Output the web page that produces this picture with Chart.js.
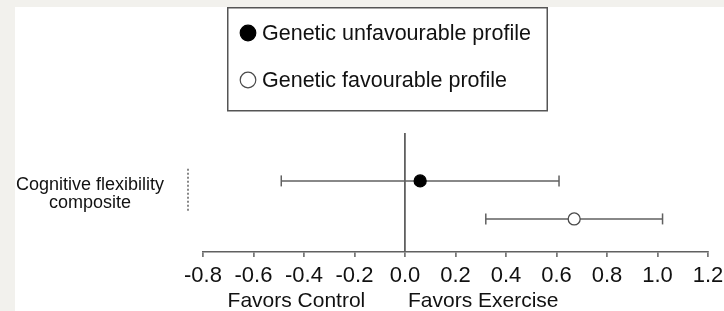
<!DOCTYPE html>
<html>
<head>
<meta charset="utf-8">
<script src="https://cdn.jsdelivr.net/npm/chart.js@4.4.1/dist/chart.umd.min.js"></script>
<style>
  html, body { margin: 0; padding: 0; background: #f2f1ed; }
  #panel { position: absolute; left: 15px; top: 7px; width: 709px; height: 304px; background: #ffffff; }
</style>
</head>
<body>
<div id="panel"><canvas id="forestChart" width="709" height="304"></canvas></div>
<script>
// ---------- DATA
var seriesLabels   = ['Genetic unfavourable profile', 'Genetic favourable profile'];
var seriesRows     = [2, 1];            // row position on the y scale
var effectEstimate = [0.06, 0.67];
var ciLower        = [-0.49, 0.32];
var ciUpper        = [0.61, 1.02];

var outcomeLabels  = [['Cognitive flexibility', 'composite']];
var outcomeAt      = [1.66];
var outcomeSpan    = [[1.16, 2.32]];    // dashed bracket next to the outcome

var xTickValues    = [-0.8, -0.6, -0.4, -0.2, 0.0, 0.2, 0.4, 0.6, 0.8, 1.0, 1.2];
var xTickLabels    = ['-0.8', '-0.6', '-0.4', '-0.2', '0.0', '0.2', '0.4', '0.6', '0.8', '1.0', '1.2'];
var directionLabels = ['Favors Control', 'Favors Exercise'];
var directionAt     = [-0.43, 0.31];

var lineGrey = '#606060';
var fontFam  = "'Liberation Sans', Arial, Helvetica, sans-serif";

// ---------- DATASETS
var pointFill   = ['#000000', '#ffffff'];
var pointBorder = ['#000000', '#4a4a4a'];

var datasets = [];
// points first so they are drawn on top of the whiskers
for (var i = 0; i < seriesLabels.length; i++) {
    datasets.push({
        type: 'scatter',
        label: seriesLabels[i],
        data: [{ x: effectEstimate[i], y: seriesRows[i] }],
        pointRadius: 6,
        pointBackgroundColor: pointFill[i],
        pointBorderColor: pointBorder[i],
        pointBorderWidth: 1.3
    });
}
for (var j = 0; j < seriesLabels.length; j++) {
    datasets.push({
        type: 'line',
        label: 'ci' + j,
        data: [{ x: ciLower[j], y: seriesRows[j] }, { x: ciUpper[j], y: seriesRows[j] }],
        borderColor: lineGrey,
        borderWidth: 1.5,
        pointStyle: 'line',
        rotation: 90,
        pointRadius: 5.5,
        pointBorderColor: lineGrey,
        pointBorderWidth: 1.5,
        fill: false
    });
}

// ---------- legend box + outcome bracket
var forestDecor = {
    id: 'forestDecor',
    afterDatasetsDraw: function (chart) {
        var ctx = chart.ctx;
        var yScale = chart.scales.y;
        var area = chart.chartArea;

        // dashed bracket
        ctx.save();
        ctx.strokeStyle = lineGrey;
        ctx.lineWidth = 1.5;
        ctx.setLineDash([2, 2]);
        outcomeSpan.forEach(function (span) {
            var bx = area.left - 15;
            ctx.beginPath();
            ctx.moveTo(bx, yScale.getPixelForValue(span[1]));
            ctx.lineTo(bx, yScale.getPixelForValue(span[0]));
            ctx.stroke();
        });
        ctx.restore();

        // legend
        ctx.save();
        ctx.strokeStyle = '#555555';
        ctx.lineWidth = 1.5;
        ctx.strokeRect(212.75, 0.75, 319.5, 103);
        ctx.font = '21.5px ' + fontFam;
        ctx.textBaseline = 'middle';
        ctx.textAlign = 'left';
        var rowY = [26, 73];
        for (var k = 0; k < seriesLabels.length; k++) {
            ctx.beginPath();
            ctx.arc(233, rowY[k], 7.8, 0, Math.PI * 2);
            ctx.fillStyle = pointFill[k];
            ctx.fill();
            ctx.lineWidth = 1.2;
            ctx.strokeStyle = pointBorder[k];
            ctx.stroke();
            ctx.fillStyle = '#111111';
            ctx.fillText(seriesLabels[k], 247, rowY[k] + 1);
        }
        ctx.restore();
    }
};

var ctx = document.getElementById('forestChart').getContext('2d');
var forestChart = new Chart(ctx, {
    data: { datasets: datasets },
    options: {
        responsive: false,
        animation: false,
        events: [],
        layout: { padding: { top: 126, left: 0, right: 16, bottom: 0 } },
        plugins: {
            legend: { display: false },
            tooltip: { enabled: false },
            title: { display: false }
        },
        scales: {
            x: {
                type: 'linear',
                position: 'bottom',
                min: -0.8,
                max: 1.2,
                weight: 0,
                afterBuildTicks: function (scale) {
                    scale.ticks = xTickValues.map(function (v) { return { value: v }; });
                },
                afterFit: function (scale) {
                    scale.height = 36;
                    scale.paddingRight = 0;
                    scale.paddingLeft = 0;
                },
                border: { display: true, color: lineGrey, width: 1.5 },
                grid: {
                    drawOnChartArea: true,
                    drawTicks: true,
                    tickLength: 5,
                    tickWidth: 1.5,
                    tickColor: lineGrey,
                    color: function (c) {
                        return (c.tick && Math.abs(c.tick.value) < 1e-9) ? lineGrey : 'rgba(0,0,0,0)';
                    },
                    lineWidth: 1.8
                },
                ticks: {
                    autoSkip: false,
                    maxRotation: 0,
                    padding: 6,
                    color: '#111111',
                    font: { family: fontFam, size: 22 },
                    callback: function (value, index) { return xTickLabels[index]; }
                }
            },
            xDir: {
                type: 'linear',
                position: 'bottom',
                min: -0.8,
                max: 1.2,
                weight: 1,
                afterBuildTicks: function (scale) {
                    scale.ticks = directionAt.map(function (v) { return { value: v }; });
                },
                afterFit: function (scale) {
                    scale.height = 23;
                    scale.paddingRight = 0;
                    scale.paddingLeft = 0;
                },
                border: { display: false },
                grid: { display: false, drawTicks: false },
                ticks: {
                    autoSkip: false,
                    maxRotation: 0,
                    padding: 1,
                    color: '#111111',
                    font: { family: fontFam, size: 21 },
                    callback: function (value, index) { return directionLabels[index]; }
                }
            },
            y: {
                type: 'linear',
                position: 'left',
                min: 0.13,
                max: 3.26,
                afterBuildTicks: function (scale) {
                    scale.ticks = outcomeAt.map(function (v) { return { value: v }; });
                },
                afterFit: function (scale) { scale.width = 188; },
                border: { display: false },
                grid: { display: false, drawTicks: false },
                ticks: {
                    autoSkip: false,
                    crossAlign: 'center',
                    padding: 39,
                    color: '#111111',
                    font: { family: fontFam, size: 18, lineHeight: 1.0 },
                    callback: function (value, index) { return outcomeLabels[index]; }
                }
            }
        }
    },
    plugins: [forestDecor]
});
</script>
</body>
</html>
